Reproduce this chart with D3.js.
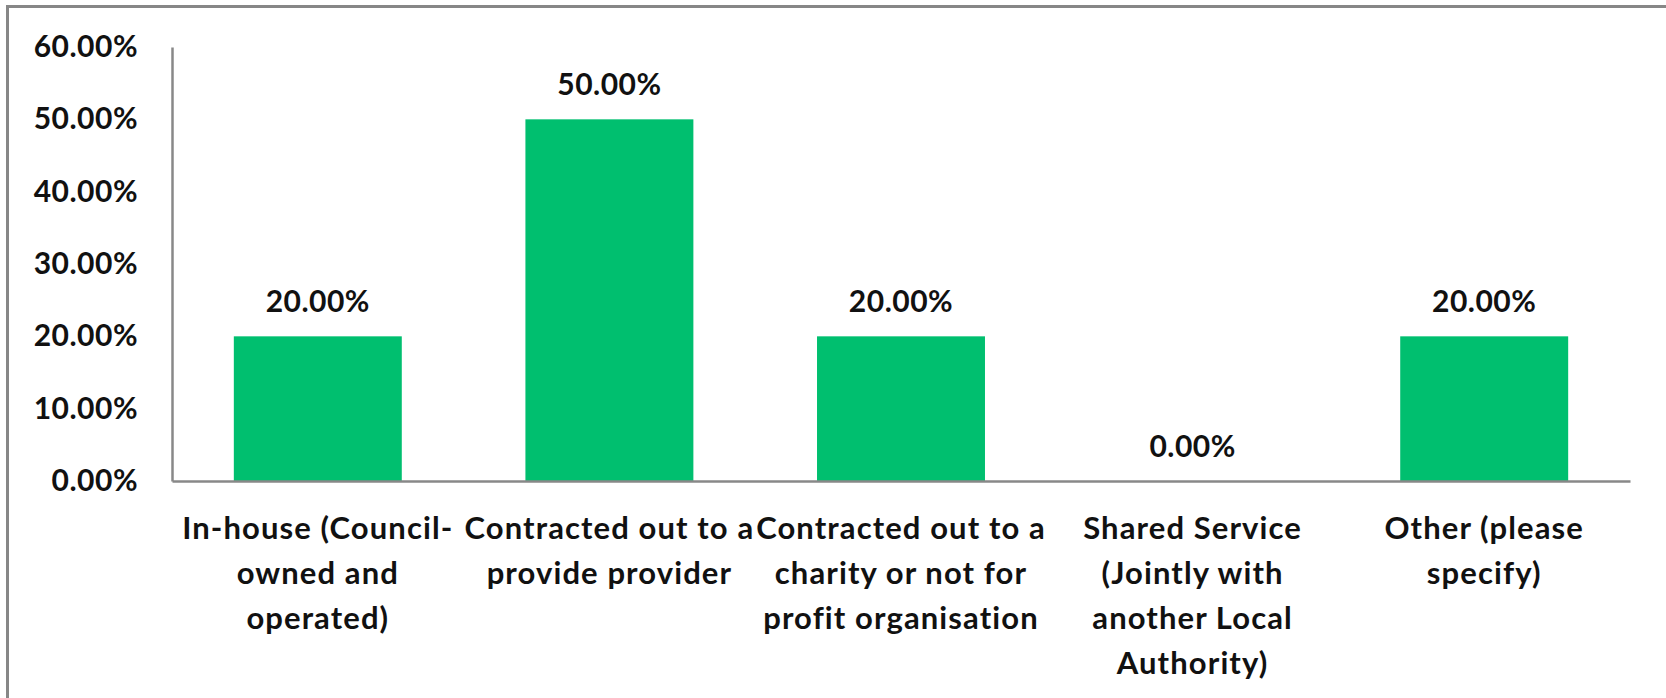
<!DOCTYPE html>
<html>
<head>
<meta charset="utf-8">
<script src="https://cdn.jsdelivr.net/npm/d3@7"></script>
<style>
  html, body { margin: 0; padding: 0; background: #fff; }
  svg { display: block; }
  text { font-family: "Lato", "Open Sans", sans-serif; font-weight: 700; fill: #111; }
</style>
</head>
<body>
<svg id="chart" width="1666" height="698"></svg>
<script>
// ---- data ----
const categories = [
  "In-house (Council-\nowned and\noperated)",
  "Contracted out to a\nprovide provider",
  "Contracted out to a\ncharity or not for\nprofit organisation",
  "Shared Service\n(Jointly with\nanother Local\nAuthority)",
  "Other (please\nspecify)"
];
const values = [0.20, 0.50, 0.20, 0.00, 0.20];
const yTicks = [0, 0.1, 0.2, 0.3, 0.4, 0.5, 0.6];

// ---- layout ----
const W = 1666, H = 698;
const plot = { left: 172, right: 1630, top: 47, bottom: 481 };
const numFont = 30;
const catFont = 31;
const barColor = "#00BF6F";
const axisColor = "#888888";

const svg = d3.select("#chart");

// outer frame (only top and left visible in the crop)
svg.append("rect")
  .attr("x", 7.5).attr("y", 6.5)
  .attr("width", W + 20).attr("height", H + 20)
  .attr("fill", "none").attr("stroke", "#878787").attr("stroke-width", 3);

const x = d3.scaleBand()
  .domain(categories)
  .range([plot.left, plot.right])
  .paddingInner(0.424)
  .paddingOuter(0.212);

const y = d3.scaleLinear()
  .domain([0, 0.6])
  .range([plot.bottom, plot.top]);

// bars
svg.append("g").selectAll("rect")
  .data(values)
  .join("rect")
  .attr("x", (d, i) => x(categories[i]))
  .attr("y", d => y(d))
  .attr("width", x.bandwidth())
  .attr("height", d => y(0) - y(d))
  .attr("fill", barColor);

// y axis (labels only, no tick marks)
const yAxis = svg.append("g")
  .attr("transform", `translate(${plot.left},0)`)
  .call(d3.axisLeft(y).tickValues(yTicks).tickFormat(d3.format(".2%")).tickSize(0).tickPadding(34));
yAxis.select(".domain").attr("stroke", axisColor).attr("stroke-width", 2.5);
yAxis.selectAll("text")
  .attr("font-size", numFont)
  .attr("font-family", null)
  .attr("letter-spacing", 0.5)
  .attr("fill", "#111");

// x axis line
const xAxis = svg.append("g")
  .attr("transform", `translate(0,${plot.bottom})`)
  .call(d3.axisBottom(x).tickSize(0).tickFormat(""));
xAxis.select(".domain").attr("stroke", axisColor).attr("stroke-width", 2.5);
xAxis.selectAll(".tick text").remove();

// x category labels (multi-line)
const lineH = 45;
const labG = svg.append("g");
categories.forEach((c, i) => {
  const cx = x(c) + x.bandwidth() / 2;
  const t = labG.append("text")
    .attr("text-anchor", "middle")
    .attr("font-size", catFont)
    .attr("letter-spacing", 1.1)
    .attr("x", cx)
    .attr("y", 527)
    .attr("dominant-baseline", "central");
  c.split("\n").forEach((line, k) => {
    t.append("tspan")
      .attr("x", cx)
      .attr("y", 527 + k * lineH)
      .text(line);
  });
});

// value labels
svg.append("g").selectAll("text")
  .data(values)
  .join("text")
  .attr("text-anchor", "middle")
  .attr("dominant-baseline", "central")
  .attr("font-size", numFont)
  .attr("letter-spacing", 0.5)
  .attr("x", (d, i) => x(categories[i]) + x.bandwidth() / 2)
  .attr("y", d => y(d) - 36)
  .text(d => d3.format(".2%")(d));
</script>
</body>
</html>
